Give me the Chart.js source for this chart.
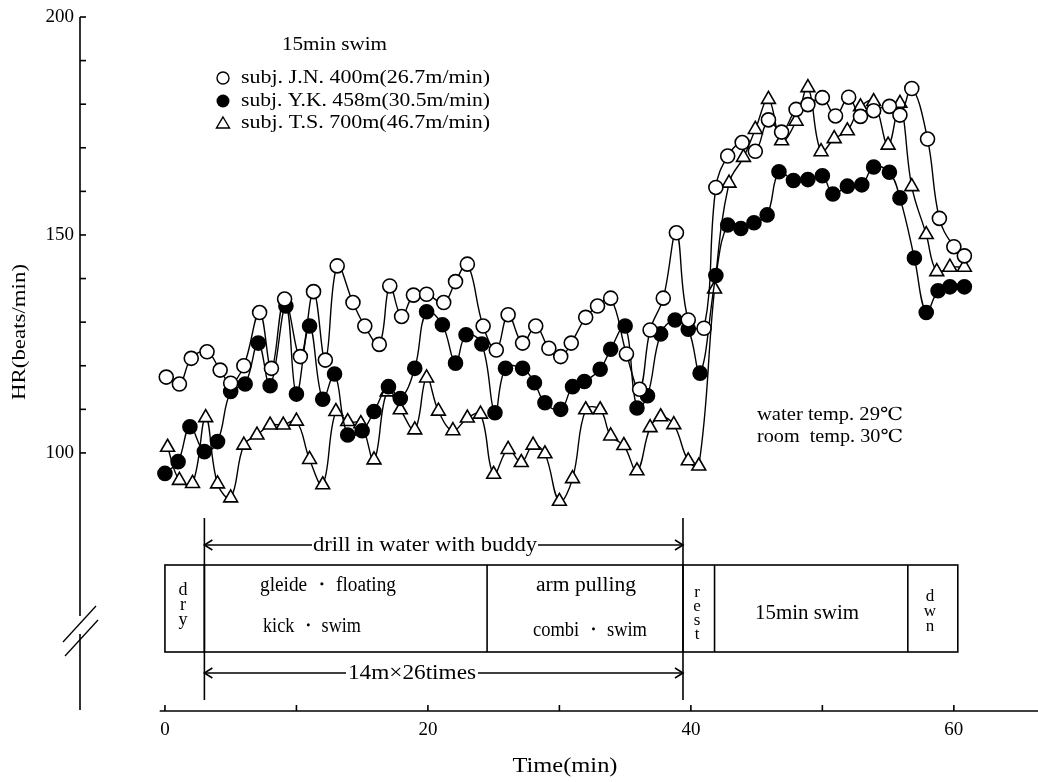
<!DOCTYPE html>
<html><head><meta charset="utf-8">
<script src="https://cdn.jsdelivr.net/npm/chart.js@4"></script>
<style>html,body{margin:0;padding:0;background:#fff}#wrap{width:1038px;height:782px;position:relative}canvas{display:block}</style>
</head><body><div id="wrap"><canvas id="c" width="1038" height="782"></canvas></div>
<script>
// ---- data ----
const tJN  = [0.1,1.1,2.0,3.2,4.2,5.0,6.0,7.2,8.1,9.1,10.3,11.3,12.2,13.1,14.3,15.2,16.3,17.1,18.0,18.9,19.9,21.2,22.1,23.0,24.2,25.2,26.1,27.2,28.2,29.2,30.1,30.9,32.0,32.9,33.9,35.1,36.1,36.9,37.9,38.9,39.8,41.0,41.9,42.8,43.9,44.9,45.9,46.9,48.0,48.9,50.0,51.0,52.0,52.9,53.9,55.1,55.9,56.8,58.0,58.9,60.0,60.8];
const hrJN = [117.4,115.8,121.7,123.2,119.0,116.0,120.0,132.2,119.4,135.3,122.1,137.0,121.3,142.9,134.5,129.1,124.9,138.3,131.3,136.2,136.4,134.5,139.3,143.3,129.1,123.6,131.7,125.2,129.1,124.0,122.1,125.2,131.1,133.7,135.5,122.7,114.6,128.2,135.5,150.5,130.5,128.6,160.9,168.1,171.2,169.2,176.4,173.6,178.8,179.9,181.5,177.3,181.6,177.2,178.5,179.5,177.5,183.6,172.0,153.8,147.3,145.2];
const tYK  = [0.0,1.0,1.9,3.0,4.0,5.0,6.1,7.1,8.0,9.2,10.0,11.0,12.0,12.9,13.9,15.0,15.9,17.0,17.9,19.0,19.9,21.1,22.1,22.9,24.1,25.1,25.9,27.2,28.1,28.9,30.1,31.0,31.9,33.1,33.9,35.0,35.9,36.7,37.7,38.8,39.8,40.7,41.9,42.8,43.8,44.8,45.8,46.7,47.8,48.9,50.0,50.8,51.9,53.0,53.9,55.1,55.9,57.0,57.9,58.8,59.7,60.8];
const hrYK = [95.3,98.0,106.0,100.3,102.6,114.1,115.8,125.2,115.4,133.7,113.5,129.1,112.3,118.1,104.1,105.1,109.5,115.2,112.5,119.4,132.4,129.4,120.6,127.1,125.0,109.2,119.4,119.4,116.1,111.5,110.0,115.2,116.4,119.2,123.8,129.1,110.3,113.1,127.3,130.5,128.4,118.3,140.7,152.3,151.5,152.8,154.6,164.5,162.5,162.7,163.6,159.4,161.2,161.5,165.6,164.4,158.5,144.7,132.2,137.2,138.1,138.1];
const tTS  = [0.2,1.1,2.1,3.1,4.0,5.0,6.0,7.0,8.0,9.0,10.0,11.0,12.0,13.0,13.9,14.9,15.9,16.9,17.9,19.0,19.9,20.8,21.9,23.0,24.0,25.0,26.1,27.1,28.0,28.9,30.0,31.0,32.0,33.1,33.9,34.9,35.9,36.9,37.7,38.7,39.8,40.6,41.8,42.9,44.0,44.9,45.9,46.9,48.0,48.9,49.9,50.9,51.9,52.9,53.9,55.0,55.9,56.8,57.9,58.7,59.7,60.8];
const hrTS = [101.3,93.7,93.0,108.1,92.9,89.7,101.8,104.1,106.4,106.4,107.3,98.5,92.7,109.5,107.2,106.7,98.4,114.0,109.9,105.3,117.2,109.6,105.1,108.0,108.9,95.1,100.8,97.8,101.8,99.8,88.9,94.1,109.9,109.9,103.9,101.7,95.9,105.8,108.3,106.5,98.2,97.0,137.6,161.9,167.8,174.2,181.1,171.6,176.1,183.8,169.1,172.1,173.9,179.4,180.6,170.6,180.2,161.1,150.1,141.6,142.6,142.6];

const xTickLabels = [0,20,40,60];
const xMinorTicks = [0,10,20,30,40,50,60];
const yTickLabels = [100,150,200];
const yMinorTicks = [100,110,120,130,140,150,160,170,180,190,200];
const legendTitle = '15min swim';
const legendLabels = ['subj. J.N. 400m(26.7m/min)','subj. Y.K. 458m(30.5m/min)','subj. T.S. 700m(46.7m/min)'];
const phaseBounds = [0, 3, 24.5, 39.4, 41.8, 56.5, 60.3];
const drillSpan = [3, 39.4];

const FONT = '"Liberation Serif", "DejaVu Serif", serif';

function pts(t, v){ return t.map((x,i)=>({x:x, y:v[i]})); }

function txt(ctx, s, x, y, w, size, align){
  ctx.save();
  ctx.font = size + 'px ' + FONT;
  const mw = ctx.measureText(s).width;
  const sx = w ? w / mw : 1;
  ctx.translate(x, y);
  ctx.scale(sx, 1);
  ctx.textAlign = align || 'center';
  ctx.textBaseline = 'middle';
  ctx.fillStyle = '#000';
  ctx.fillText(s, 0, 0);
  ctx.restore();
}
function line(ctx, x1, y1, x2, y2){ ctx.beginPath(); ctx.moveTo(x1,y1); ctx.lineTo(x2,y2); ctx.stroke(); }
function arrowHead(ctx, x, y, dir){
  ctx.beginPath(); ctx.moveTo(x - dir*8, y - 5); ctx.lineTo(x, y); ctx.lineTo(x - dir*8, y + 5); ctx.stroke();
}

const deco = {
  id: 'deco',
  afterDraw(chart){
    const ctx = chart.ctx, xs = chart.scales.x, ys = chart.scales.y, ca = chart.chartArea;
    ctx.save();
    ctx.strokeStyle = '#000'; ctx.fillStyle = '#000'; ctx.lineWidth = 1.6;
    const yAx = ca.bottom;
    line(ctx, xs.getPixelForValue(-0.4), yAx, chart.width, yAx);
    xMinorTicks.forEach(v => { const p = xs.getPixelForValue(v); line(ctx, p, yAx, p, yAx - 6); });
    const xAx = ca.left;
    const top = ys.getPixelForValue(200);
    line(ctx, xAx, top, xAx, 616);
    line(ctx, xAx, 634, xAx, 710);
    yMinorTicks.forEach(v => { const p = ys.getPixelForValue(v); line(ctx, xAx, p, xAx + 6, p); });
    ctx.lineWidth = 1.3;
    line(ctx, 63, 642, 96, 606);
    line(ctx, 65, 656, 98, 620);
    ctx.lineWidth = 1.6;

    const bx0 = xs.getPixelForValue(phaseBounds[0]), bx1 = xs.getPixelForValue(phaseBounds[phaseBounds.length-1]);
    const bTop = 565, bBot = 652;
    ctx.strokeRect(bx0, bTop, bx1 - bx0, bBot - bTop);
    phaseBounds.slice(1, -1).forEach(v => { const p = xs.getPixelForValue(v); line(ctx, p, bTop, p, bBot); });
    const d0 = xs.getPixelForValue(drillSpan[0]), d1 = xs.getPixelForValue(drillSpan[1]);
    line(ctx, d0, 518, d0, 700);
    line(ctx, d1, 518, d1, 700);
    const aY1 = 545, aY2 = 673;
    line(ctx, d0, aY1, 312, aY1); line(ctx, 538, aY1, d1, aY1);
    arrowHead(ctx, d0, aY1, -1); arrowHead(ctx, d1, aY1, 1);
    txt(ctx, 'drill in water with buddy', 425, aY1, 224, 21);
    line(ctx, d0, aY2, 346, aY2); line(ctx, 478, aY2, d1, aY2);
    arrowHead(ctx, d0, aY2, -1); arrowHead(ctx, d1, aY2, 1);
    txt(ctx, '14m\u00d726times', 412, aY2, 128, 21);

    ['d','r','y'].forEach((c,i) => txt(ctx, c, 183, 590 + i*15, null, 18));
    txt(ctx, 'gleide \u30fb floating', 328, 586, 136, 20);
    txt(ctx, 'kick \u30fb swim', 312, 627, 98, 20);
    txt(ctx, 'arm pulling', 586, 586, 100, 20);
    txt(ctx, 'combi \u30fb swim', 590, 631, 114, 20);
    ['r','e','s','t'].forEach((c,i) => txt(ctx, c, 697, 593 + i*14, null, 17));
    txt(ctx, '15min swim', 807, 614, 104, 20);
    ['d','w','n'].forEach((c,i) => txt(ctx, c, 930, 597 + i*15, null, 17));

    txt(ctx, legendTitle, 282, 45, 105, 18, 'left');
    const rows = [78, 101, 123];
    legendLabels.forEach((s,i) => txt(ctx, s, 241, rows[i], 249, 18, 'left'));
    ctx.lineWidth = 1.4;
    ctx.beginPath(); ctx.arc(223, rows[0], 6, 0, Math.PI*2); ctx.stroke();
    ctx.beginPath(); ctx.arc(223, rows[1], 6.5, 0, Math.PI*2); ctx.fill();
    ctx.beginPath(); ctx.moveTo(223, rows[2]-6); ctx.lineTo(229.5, rows[2]+5); ctx.lineTo(216.5, rows[2]+5); ctx.closePath(); ctx.stroke();

    txt(ctx, 'water temp. 29\u2103', 757, 415, 146, 18, 'left');
    txt(ctx, 'room  temp. 30\u2103', 757, 437, 146, 18, 'left');

    txt(ctx, 'Time(min)', 565, 766, 105, 21);
    ctx.save(); ctx.translate(20, 332); ctx.rotate(-Math.PI/2);
    txt(ctx, 'HR(beats/min)', 0, 0, 136, 19);
    ctx.restore();
    ctx.restore();
  }
};

const common = { borderColor:'#000', borderWidth:1.4, tension:0.4, pointBorderColor:'#000', pointBorderWidth:1.6, fill:false };
new Chart(document.getElementById('c'), {
  type: 'line',
  data: { datasets: [
    Object.assign({ label: legendLabels[0], data: pts(tJN, hrJN), pointStyle:'circle', pointRadius:7, pointBackgroundColor:'#fff' }, common),
    Object.assign({ label: legendLabels[1], data: pts(tYK, hrYK), pointStyle:'circle', pointRadius:7, pointBackgroundColor:'#000' }, common),
    Object.assign({ label: legendLabels[2], data: pts(tTS, hrTS), pointStyle:'triangle', pointRadius:8, pointBackgroundColor:'#fff' }, common)
  ]},
  options: {
    responsive:false, animation:false, devicePixelRatio:1,
    layout:{ autoPadding:false, padding:{ top:17, left:0, right:0, bottom:0 } },
    plugins:{ legend:{display:false}, tooltip:{enabled:false} },
    scales:{
      x:{ type:'linear', min:-6.46, max:66.4,
          grid:{display:false, drawTicks:false}, border:{display:false},
          afterBuildTicks: s => { s.ticks = xTickLabels.map(v => ({value:v})); },
          afterFit: s => { s.height = 71; s.paddingLeft = 0; s.paddingRight = 0; },
          ticks:{ padding:8, color:'#000', maxRotation:0, autoSkip:false, font:{family:FONT, size:19} } },
      y:{ type:'linear', min:40.8, max:200,
          grid:{display:false, drawTicks:false}, border:{display:false},
          afterBuildTicks: s => { s.ticks = yTickLabels.map(v => ({value:v})); },
          afterFit: s => { s.width = 80; s.paddingTop = 0; s.paddingBottom = 0; },
          ticks:{ padding:6, color:'#000', font:{family:FONT, size:19} } }
    }
  },
  plugins:[deco]
});
</script></body></html>
